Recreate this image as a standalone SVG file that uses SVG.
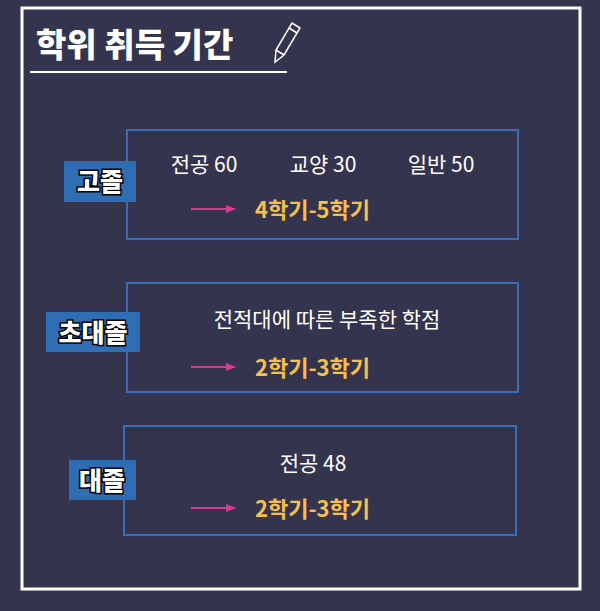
<svg xmlns="http://www.w3.org/2000/svg" width="600" height="611" viewBox="0 0 600 611">
<style>
.box{fill:none;stroke:#3a6db5;stroke-width:2}
.lab{fill:#2f6db5}
.lt{font-family:"Noto Sans CJK KR",sans-serif;font-weight:900;font-size:25px;fill:#fff;stroke:#000;stroke-width:3;paint-order:stroke;text-anchor:middle}
.t{font-family:"Noto Sans CJK KR",sans-serif;font-size:21px;fill:#fff;text-anchor:middle}
.y{font-family:"Noto Sans CJK KR",sans-serif;font-weight:bold;font-size:22px;fill:#f7c04a;text-anchor:start}
.ar{stroke:#d63a8f;stroke-width:2;fill:none}
</style>
<defs><marker id="ah" markerWidth="10" markerHeight="8" refX="9" refY="4" orient="auto" markerUnits="userSpaceOnUse"><path d="M0,0 L10,4 L0,8 Z" fill="#d63a8f"/></marker></defs>
<rect width="600" height="611" fill="#35344f"/>
<rect x="22" y="8" width="558" height="581" fill="none" stroke="#fff" stroke-width="3"/>
<g id="title">
<text x="36" y="57" font-family="Noto Sans CJK KR,sans-serif" font-weight="900" font-size="33" fill="#fff">학위 취득 기간</text>
<line x1="30" y1="72" x2="287" y2="72" stroke="#fff" stroke-width="2"/>
<g fill="none" stroke="#fff" stroke-width="1.5"><path d="M292,23 L300,28 L284,55 L275,62 L276,50 Z M276,50 L284,55 M289,28 L297,33"/></g>
</g>
<g id="connectors">
<line class="ar" x1="191" y1="209" x2="235" y2="209" marker-end="url(#ah)"/>
<line class="ar" x1="191" y1="367" x2="235" y2="367" marker-end="url(#ah)"/>
<line class="ar" x1="191" y1="508" x2="235" y2="508" marker-end="url(#ah)"/>
</g>
<g id="n1">
<rect class="box" x="127" y="130" width="391" height="109"/>
<rect class="lab" x="64" y="161" width="72" height="41"/>
<text class="lt" x="100" y="191">고졸</text>
<text class="t" x="204" y="172">전공 60</text>
<text class="t" x="323" y="172">교양 30</text>
<text class="t" x="441" y="172">일반 50</text>
<text class="y" x="255" y="218">4학기-5학기</text>
</g>
<g id="n2">
<rect class="box" x="127" y="283" width="391" height="109"/>
<rect class="lab" x="46" y="312" width="94" height="40"/>
<text class="lt" x="93" y="342">초대졸</text>
<text class="t" x="327" y="327">전적대에 따른 부족한 학점</text>
<text class="y" x="255" y="376">2학기-3학기</text>
</g>
<g id="n3">
<rect class="box" x="124" y="426" width="392" height="109"/>
<rect class="lab" x="69" y="460" width="67" height="40"/>
<text class="t" x="313" y="471">전공 48</text>
<text class="lt" x="102" y="490">대졸</text>
<text class="y" x="255" y="517">2학기-3학기</text>
</g>
</svg>
